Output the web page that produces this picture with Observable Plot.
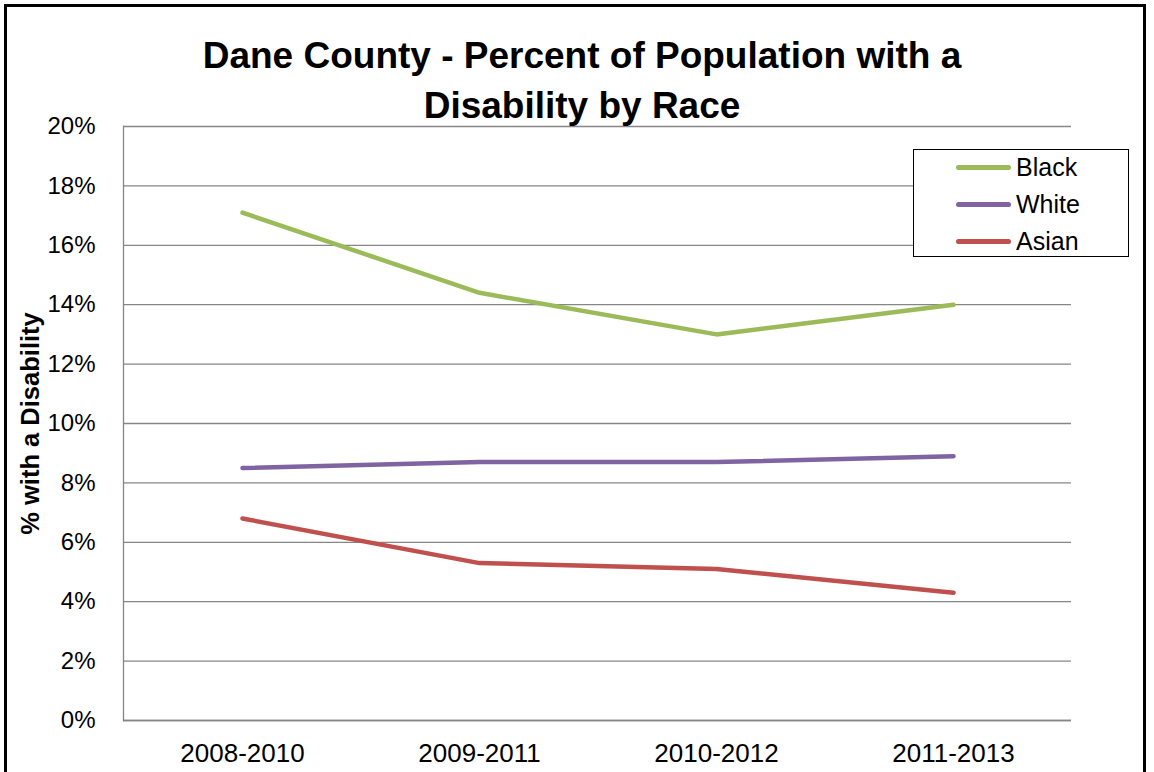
<!DOCTYPE html>
<html>
<head>
<meta charset="utf-8">
<script src="https://cdn.jsdelivr.net/npm/d3@7"></script>
<script src="https://cdn.jsdelivr.net/npm/@observablehq/plot@0.6"></script>
<style>
  html, body { margin: 0; padding: 0; background: #fff; width: 1154px; height: 772px; overflow: hidden; }
  #wrap { position: relative; width: 1154px; height: 772px; }
  #frame { position: absolute; left: 4px; top: 4px; width: 1142px; height: 800px; border: 3px solid #000; box-sizing: border-box; pointer-events: none; }
  #title { position: absolute; left: 0; top: 31px; width: 1164px; text-align: center; font-family: "Liberation Sans", Arial, sans-serif; font-weight: bold; font-size: 37px; line-height: 50px; color: #000; }
  #legend { position: absolute; left: 913px; top: 149px; width: 216px; height: 108px; border: 1.5px solid #000; box-sizing: border-box; background: #fff; font-family: "Liberation Sans", Arial, sans-serif; font-size: 25px; }
  .item { position: absolute; left: 0; height: 30px; display: flex; align-items: center; }
  .swatch { width: 55px; height: 5px; border-radius: 3px; margin-left: 42px; margin-right: 5px; }
  #chart { position: absolute; left: 0; top: 0; }
</style>
</head>
<body>
<div id="wrap">
  <div id="chart"></div>
  <div id="title">Dane County - Percent of Population with a<br>Disability by Race</div>
  <div id="legend"></div>
  <div id="frame"></div>
</div>
<script>
const periods = ["2008-2010", "2009-2011", "2010-2012", "2011-2013"];
const races = ["Black", "White", "Asian"];
const colors = ["#9BBB59", "#8064A2", "#C0504D"];
const black = [17.1, 14.4, 13.0, 14.0];
const white = [8.5, 8.7, 8.7, 8.9];
const asian = [6.8, 5.3, 5.1, 4.3];
const yTicks = [0, 2, 4, 6, 8, 10, 12, 14, 16, 18, 20];

const seriesValues = [black, white, asian];
const data = [];
races.forEach((r, i) => periods.forEach((p, j) => data.push({race: r, period: p, value: seriesValues[i][j]})));

const chart = Plot.plot({
  width: 1154,
  height: 772,
  marginTop: 126,
  marginLeft: 123,
  marginRight: 83,
  marginBottom: 52,
  style: {background: "transparent"},
  x: {type: "point", domain: periods, padding: 0.5, label: null},
  y: {domain: [0, 20], label: null},
  color: {domain: races, range: colors},
  marks: [
    Plot.gridY(yTicks, {stroke: "#868686", strokeOpacity: 1, strokeWidth: 1.3}),
    Plot.axisY(yTicks, {tickSize: 0, tickPadding: 28, tickFormat: d => d + "%", fontSize: 24, fontFamily: "Liberation Sans, Arial, sans-serif", fill: "#000", label: null}),
    Plot.axisX({tickSize: 0, tickPadding: 23, fontSize: 26, fontFamily: "Liberation Sans, Arial, sans-serif", fill: "#000", label: null}),
    Plot.frame({anchor: "left", stroke: "#868686", strokeWidth: 1.3}),
    Plot.ruleY([0], {stroke: "#868686", strokeWidth: 1.3}),
    Plot.line(data, {x: "period", y: "value", z: "race", stroke: "race", strokeWidth: 4.5, strokeLinecap: "round", strokeLinejoin: "round"}),
    Plot.text(["% with a Disability"], {frameAnchor: "left", dx: -93, rotate: -90, textAnchor: "middle", fontSize: 25.5, fontWeight: "bold", fontFamily: "Liberation Sans, Arial, sans-serif", fill: "#000"})
  ]
});
document.getElementById("chart").appendChild(chart);

const legend = document.getElementById("legend");
races.forEach((r, i) => {
  const it = document.createElement("div");
  it.className = "item";
  it.style.top = (2 + i * 37) + "px";
  it.innerHTML = `<span class="swatch" style="background:${colors[i]}"></span><span>${r}</span>`;
  legend.appendChild(it);
});
</script>
</body>
</html>
